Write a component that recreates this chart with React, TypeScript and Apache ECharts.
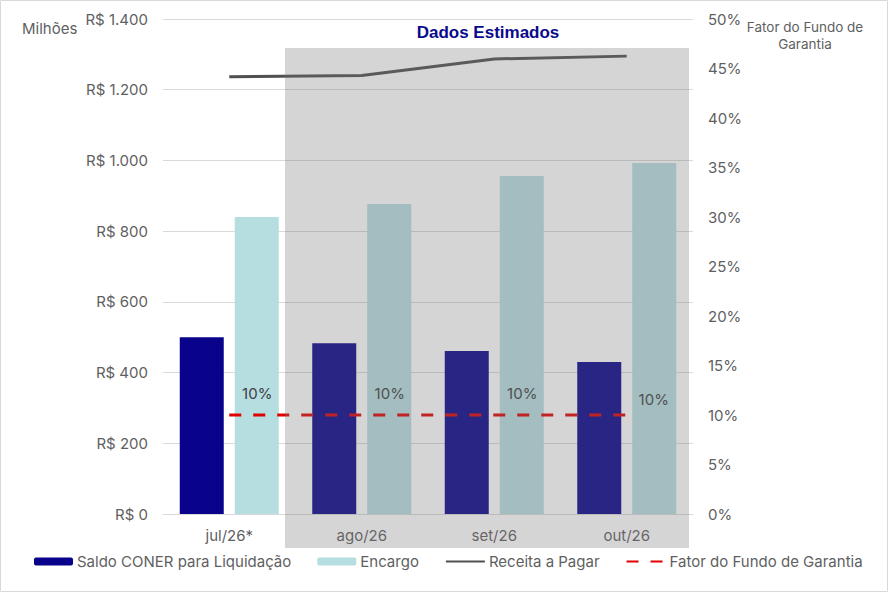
import React, { useEffect, useRef } from 'react';
import * as echarts from 'echarts';

// dados do gráfico
const categories = ['jul/26*', 'ago/26', 'set/26', 'out/26'];
const saldoConer = [500, 483, 461, 430];
const encargo = [840, 877, 956, 993];
const receitaPagar = [1237, 1240, 1287, 1295];
const fatorFundo = [10, 10, 10, 10];
const fatorOffsets = [[28, -9], [28, -9], [28, -9], [27, -3]];

const App = () => {
  const chartRef = useRef<HTMLDivElement>(null);

  useEffect(() => {
    document.body.style.margin = '0';
    const chart = echarts.init(chartRef.current!, undefined, { renderer: 'svg' });

    const axisText = { color: '#5f5f5f', fontSize: 15, fontFamily: 'Inter' };

    const options = {
      animation: false,
      textStyle: { fontFamily: 'Inter' },
      grid: { left: 163, right: 195, top: 19, bottom: 78 },
      legend: {
        bottom: 18,
        left: 29,
        itemWidth: 39,
        itemHeight: 8,
        itemGap: 26,
        textStyle: { color: '#5f5f5f', fontSize: 15, fontFamily: 'Inter', padding: [0, 0, 0, -1] },
        data: ['Saldo CONER para Liquidação', 'Encargo', 'Receita a Pagar', 'Fator do Fundo de Garantia'],
      },
      xAxis: {
        type: 'category',
        data: categories,
        axisLine: { lineStyle: { color: '#d9d9d9' } },
        axisTick: { show: false },
        axisLabel: { ...axisText, margin: 14 },
      },
      yAxis: [
        {
          type: 'value',
          min: 0,
          max: 1400,
          interval: 200,
          axisLine: { show: false },
          axisTick: { show: false },
          splitLine: { lineStyle: { color: '#d9d9d9' } },
          axisLabel: {
            ...axisText,
            margin: 15,
            formatter: (v: number) => 'R$ ' + v.toLocaleString('pt-BR'),
          },
        },
        {
          type: 'value',
          min: 0,
          max: 50,
          interval: 5,
          position: 'right',
          axisLine: { show: false },
          axisTick: { show: false },
          splitLine: { show: false },
          axisLabel: { ...axisText, margin: 15, formatter: '{value}%' },
        },
      ],
      series: [
        {
          name: 'Saldo CONER para Liquidação',
          type: 'bar',
          data: saldoConer,
          barWidth: 44,
          barGap: '25%',
          itemStyle: { color: '#08038a' },
        },
        {
          name: 'Encargo',
          type: 'bar',
          data: encargo,
          barWidth: 44,
          itemStyle: { color: '#b6dde0' },
        },
        {
          name: 'Receita a Pagar',
          type: 'line',
          data: receitaPagar,
          symbol: 'none',
          lineStyle: { color: '#505050', width: 3 },
          itemStyle: { color: 'rgba(0,0,0,0)' },
        },
        {
          name: 'Fator do Fundo de Garantia',
          type: 'line',
          yAxisIndex: 1,
          symbol: 'circle',
          symbolSize: 1,
          z: 3,
          data: fatorFundo.map((v, i) => ({
            value: v,
            label: { offset: fatorOffsets[i] },
          })),
          lineStyle: { color: '#e00000', width: 3, type: [12, 12] },
          itemStyle: { color: 'rgba(0,0,0,0)' },
          label: {
            show: true,
            position: 'top',
            color: '#404040',
            fontSize: 15,
            fontFamily: 'Inter',
            formatter: '{c}%',
          },
        },
      ],
      graphic: [
        // área cinza dos dados estimados
        {
          type: 'rect',
          z: 100,
          silent: true,
          shape: { x: 285, y: 48, width: 404, height: 500 },
          style: { fill: 'rgba(120,115,118,0.3)' },
        },
        {
          type: 'text',
          x: 488,
          y: 32,
          style: {
            text: 'Dados Estimados',
            fill: '#0a0a8c',
            font: 'bold 17px "Liberation Sans", Arial',
            align: 'center',
            verticalAlign: 'middle',
          },
        },
        {
          type: 'text',
          x: 22,
          y: 28,
          style: {
            text: 'Milhões',
            fill: '#5f5f5f',
            font: '15px Inter',
            verticalAlign: 'middle',
          },
        },
        {
          type: 'text',
          x: 805,
          y: 35,
          style: {
            text: 'Fator do Fundo de\nGarantia',
            fill: '#5f5f5f',
            font: '13.5px Inter',
            lineHeight: 17,
            align: 'center',
            verticalAlign: 'middle',
          },
        },
        {
          type: 'rect',
          silent: true,
          shape: { x: 0.5, y: 0.5, width: 887, height: 591 },
          style: { fill: 'none', stroke: '#d9d9d9', lineWidth: 1 },
        },
      ],
    };

    chart.setOption(options);
    return () => {
      chart.dispose();
    };
  }, []);

  return <div style={{ width: '888px', height: '592px' }} ref={chartRef}></div>;
};

export default App;
